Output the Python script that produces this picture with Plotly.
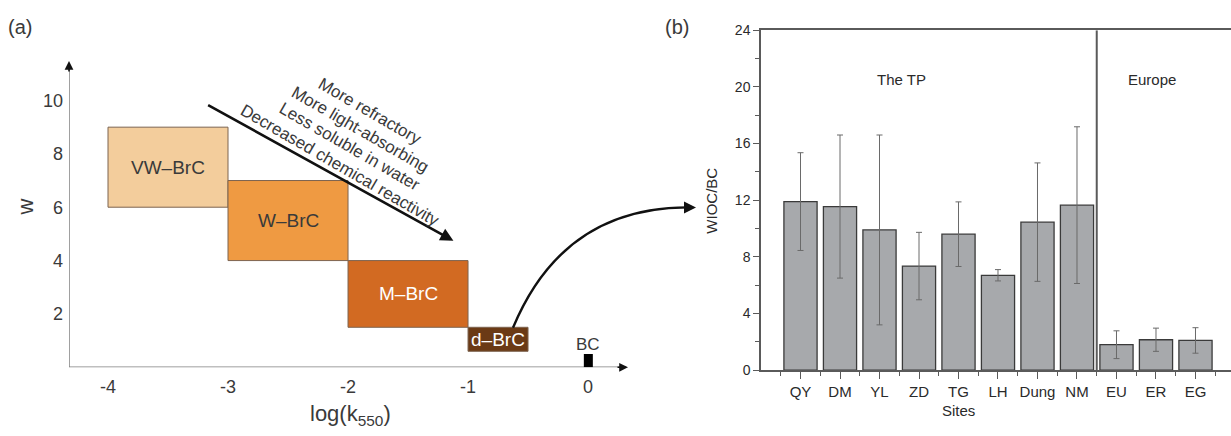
import plotly.graph_objects as go

W_PX, H_PX = 1231, 436
FONT = "Liberation Sans, Arial, Helvetica, sans-serif"

# ---------------- Panel (a) data ----------------
brc_names = ["VW–BrC", "W–BrC", "M–BrC", "d–BrC"]
brc_logk_lo = [-4.0, -3.0, -2.0, -1.0]
brc_logk_hi = [-3.0, -2.0, -1.0, -0.5]
brc_w_lo = [6.0, 4.0, 1.5, 0.6]
brc_w_hi = [9.0, 7.0, 4.0, 1.5]
brc_fill = ["#f3cd9c", "#ef9a42", "#d26a22", "#6b3a15"]
brc_text_color = ["#3a3a3a", "#3a3a3a", "#ffffff", "#ffffff"]

bc_logk = [-0.035, 0.04]
bc_w = [0.0, 0.5]

a_xticks = [-4, -3, -2, -1, 0]
a_xticklabels = ["-4", "-3", "-2", "-1", "0"]
a_yticks = [2, 4, 6, 8, 10]
a_yticklabels = ["2", "4", "6", "8", "10"]

trend_lines = ["More refractory", "More light-absorbing",
               "Less soluble in water", "Decreased chemical reactivity"]
trend_pos_x = [-1.817, -1.90, -1.99, -2.067]
trend_pos_y = [9.59, 8.93, 8.27, 7.58]

# ---------------- Panel (b) data ----------------
sites = ["QY", "DM", "YL", "ZD", "TG", "LH", "Dung", "NM", "EU", "ER", "EG"]
wioc_bc = [11.9, 11.55, 9.9, 7.35, 9.6, 6.7, 10.45, 11.65, 1.8, 2.15, 2.1]
wioc_bc_err = [3.45, 5.05, 6.7, 2.38, 2.28, 0.4, 4.18, 5.53, 0.98, 0.82, 0.9]
b_yticks = [0, 4, 8, 12, 16, 20, 24]
region_names = ["The TP", "Europe"]
region_x = [2.56, 8.89]

fig = go.Figure()

fig.add_trace(go.Scatter(x=[bc_logk[0]], y=[bc_w[0]], mode="markers",
                         marker=dict(opacity=0), xaxis="x", yaxis="y",
                         hoverinfo="skip"))

shapes = []
annotations = []


def note(x, y, text, size, color="#3a3a3a", xref="paper", yref="paper", angle=0):
    annotations.append(dict(x=x, y=y, xref=xref, yref=yref, text=text, showarrow=False,
                            xanchor="center", yanchor="middle", textangle=angle,
                            font=dict(family=FONT, size=size, color=color)))


AX_COL = "#808080"
shapes.append(dict(type="line", xref="x", yref="y", x0=-4.325, x1=0.31, y0=0, y1=0,
                   line=dict(color=AX_COL, width=1.5), layer="above"))
shapes.append(dict(type="line", xref="x", yref="y", x0=-4.325, x1=-4.325, y0=0, y1=11.35,
                   line=dict(color=AX_COL, width=1.5), layer="above"))
annotations.append(dict(x=0.333, y=0, xref="x", yref="y", ax=-12, ay=0, text="",
                        showarrow=True, arrowhead=2, arrowsize=1.1, arrowwidth=1.6,
                        arrowcolor="#111111"))
annotations.append(dict(x=-4.325, y=11.48, xref="x", yref="y", ax=0, ay=12, text="",
                        showarrow=True, arrowhead=2, arrowsize=1.1, arrowwidth=1.6,
                        arrowcolor="#111111"))

for name, x0, x1, y0, y1, fc, tc in zip(brc_names, brc_logk_lo, brc_logk_hi,
                                        brc_w_lo, brc_w_hi, brc_fill, brc_text_color):
    shapes.append(dict(type="rect", xref="x", yref="y", x0=x0, x1=x1, y0=y0, y1=y1,
                       fillcolor=fc, line=dict(color="#7d6450", width=1), layer="below"))
    note((x0 + x1) / 2, (y0 + y1) / 2, name, 19, tc, "x", "y")

shapes.append(dict(type="rect", xref="x", yref="y", x0=bc_logk[0], x1=bc_logk[1],
                   y0=bc_w[0], y1=bc_w[1], fillcolor="#000000",
                   line=dict(color="#000000", width=0)))
note((bc_logk[0] + bc_logk[1]) / 2, bc_w[1] + 0.37, "BC", 17, "#3a3a3a", "x", "y")

annotations.append(dict(x=-1.122, y=4.74, ax=-3.178, ay=9.86, xref="x", yref="y",
                        axref="x", ayref="y", text="", showarrow=True, arrowhead=2,
                        arrowsize=1.0, arrowwidth=2.6, arrowcolor="#111111"))
for t, tx, ty in zip(trend_lines, trend_pos_x, trend_pos_y):
    note(tx, ty, t, 17, "#3a3a3a", "x", "y", 30)

note(350 / W_PX, 1 - 423 / H_PX, "log(k<sub>550</sub>)", 22)
note(25 / W_PX, 1 - 207 / H_PX, "w", 22, angle=-90)
note(20 / W_PX, 1 - 20 / H_PX, "(a)", 20)
note(677 / W_PX, 1 - 20 / H_PX, "(b)", 20)


def P(px, py):
    return f"{px / W_PX:.5f},{1 - py / H_PX:.5f}"


shapes.append(dict(type="path", xref="paper", yref="paper",
                   path=f"M {P(513, 332)} Q {P(563, 207)} {P(688, 207)}",
                   line=dict(color="#111111", width=2.4)))
annotations.append(dict(x=696 / W_PX, y=1 - 207 / H_PX, xref="paper", yref="paper",
                        ax=-12, ay=0, text="", showarrow=True, arrowhead=2,
                        arrowsize=1.0, arrowwidth=2.4, arrowcolor="#111111"))

fig.add_trace(go.Bar(x=list(range(len(sites))), y=wioc_bc, width=0.84,
                     marker=dict(color="#a7a9ac", line=dict(color="#3a3a3a", width=1.3)),
                     error_y=dict(type="data", array=wioc_bc_err, color="#6a6a6a",
                                  thickness=1, width=3),
                     xaxis="x2", yaxis="y2"))

B_AX = "#5a5a5a"
shapes.append(dict(type="line", xref="x2", yref="y2", x0=7.5, x1=7.5, y0=0, y1=24,
                   line=dict(color=B_AX, width=2)))
for name, rx in zip(region_names, region_x):
    note(rx, 20.55, name, 15, "#2a2a2a", "x2", "y2")

note(712 / W_PX, 1 - 200 / H_PX, "WIOC/BC", 15, "#2a2a2a", angle=-90)
note(958 / W_PX, 1 - 418 / H_PX, "Sites", 15, "#2a2a2a")

fig.update_layout(
    width=W_PX, height=H_PX,
    margin=dict(l=0, r=0, t=0, b=0),
    paper_bgcolor="white", plot_bgcolor="white",
    showlegend=False,
    shapes=shapes, annotations=annotations,
    xaxis=dict(domain=[69 / W_PX, 628 / W_PX], range=[-4.325, 0.333], anchor="y",
               showline=False, showgrid=False, zeroline=False, ticks="",
               tickvals=a_xticks, ticktext=a_xticklabels, ticklabelstandoff=7,
               tickfont=dict(family=FONT, size=18, color="#3a3a3a")),
    yaxis=dict(domain=[1 - 373 / H_PX, 1 - 55 / H_PX], range=[0, 11.48], anchor="x",
               showline=False, showgrid=False, zeroline=False, ticks="",
               tickvals=a_yticks, ticktext=a_yticklabels, ticklabelstandoff=5,
               tickfont=dict(family=FONT, size=18, color="#3a3a3a")),
    xaxis2=dict(domain=[761 / W_PX, 1.0], range=[-1, 10.899], anchor="y2",
                showline=True, linecolor=B_AX, linewidth=1.5, mirror=True,
                showgrid=False, zeroline=False,
                ticks="outside", ticklen=7, tickwidth=1, tickcolor=B_AX,
                tickvals=list(range(len(sites))), ticktext=sites,
                minor=dict(ticks="outside", tick0=-0.5, dtick=1, ticklen=4,
                           tickwidth=1, tickcolor=B_AX),
                tickfont=dict(family=FONT, size=15, color="#2a2a2a")),
    yaxis2=dict(domain=[1 - 376 / H_PX, 1 - 23 / H_PX], range=[0, 24], anchor="x2",
                showline=True, linecolor=B_AX, linewidth=1.5,
                showgrid=False, zeroline=False,
                ticks="outside", ticklen=6, tickwidth=1, tickcolor=B_AX,
                tickvals=b_yticks, ticktext=[str(v) for v in b_yticks],
                minor=dict(ticks="outside", dtick=2, ticklen=4, tickwidth=1,
                           tickcolor=B_AX),
                tickfont=dict(family=FONT, size=14, color="#2a2a2a")),
)

fig.write_html("out.html",
               config={"displayModeBar": False},
               post_script="document.body.style.margin='0';"
                           "document.body.style.overflow='hidden';")
